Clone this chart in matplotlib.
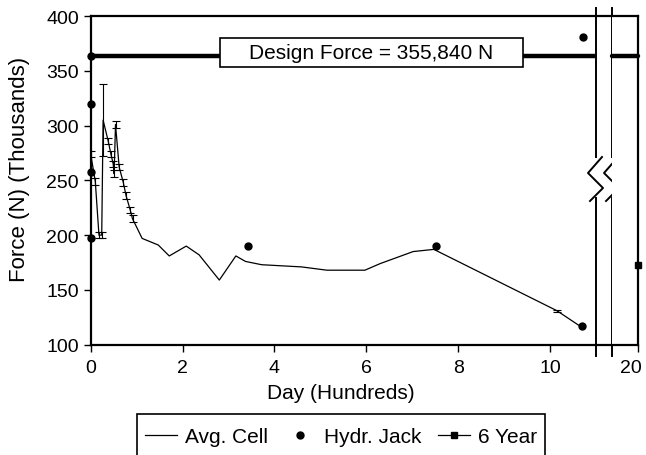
import numpy as np
import matplotlib
matplotlib.use('Agg')
import matplotlib.pyplot as plt
from matplotlib.lines import Line2D
from matplotlib.patches import Rectangle
from matplotlib.transforms import ScaledTranslation

plt.rcParams['font.family'] = ['Liberation Sans', 'DejaVu Sans']

# Avg. Cell (days in hundreds, force in thousands of N)
cell_x = [0.00, 0.10, 0.18, 0.24, 0.27, 0.38, 0.44, 0.49, 0.51, 0.54,
          0.62, 0.71, 0.77, 0.86, 0.91, 1.12, 1.47, 1.71, 2.08, 2.36,
          2.80, 3.16, 3.37, 3.72, 4.59, 5.14, 5.97, 6.30, 7.02, 7.47,
          10.15, 10.65]
cell_y = [274, 249, 200, 200, 305, 286, 274, 265, 256, 301,
          262, 248, 236, 223, 215, 197, 191, 181, 190, 182,
          159, 181, 176, 173, 171, 168, 168, 174, 185, 187,
          131, 117]
cell_err = [3, 3, 3, 3, 33, 3, 3, 3, 3, 3,
            3, 3, 3, 3, 3, 0, 0, 0, 0, 0,
            0, 0, 0, 0, 0, 0, 0, 0, 0, 0,
            1, 0]

# Hydr. Jack
jack_x = [0.0, 0.0, 0.0, 3.43, 7.51, 10.70, 10.71]
jack_y = [320, 258, 197, 190, 190, 117, 381]

# 6 Year
year6_x = [20]
year6_y = [172.5]

design_line = 363.8
design_label = 'Design Force = 355,840 N'

fig = plt.figure(figsize=(6.46, 4.56), dpi=100)
ax1 = fig.add_axes([0.1404, 0.2419, 0.7822, 0.7208])
ax2 = fig.add_axes([0.9474, 0.2419, 0.0407, 0.7208], sharey=ax1)

ax1.set_xlim(0, 11.0)
ax2.set_xlim(19.43, 20)
ax1.set_ylim(100, 400)

# design force line
ax1.plot([0, 11.0], [design_line, design_line], color='black', lw=3.2,
         solid_capstyle='butt', zorder=2)
ax1.plot([0], [design_line], 'o', color='black', ms=5, clip_on=False)
ax2.plot([19.43, 20], [design_line, design_line], color='black', lw=3.2,
         solid_capstyle='round', zorder=2, clip_on=False)

cx = np.array(cell_x)
cy = np.array(cell_y)
ce = np.array(cell_err)
m = ce > 0
ax1.plot(cx, cy, color='black', lw=0.9, zorder=3)
ax1.errorbar(cx[m], cy[m], yerr=ce[m], fmt='none', ecolor='black',
             elinewidth=0.8, capsize=3, capthick=0.8, zorder=3)
ax1.plot(jack_x, jack_y, 'o', color='black', ms=5, clip_on=False, zorder=4)
ax2.plot(year6_x, year6_y, 's', color='black', ms=5, clip_on=False, zorder=4)

# label box
ax1.add_patch(Rectangle((2.815, 353.2), 6.59, 26.4, facecolor='white',
                        edgecolor='black', lw=1.2, zorder=5))
ax1.text(6.10, 366.4, design_label, ha='center', va='center', fontsize=15,
         zorder=6)

ax1.set_xticks([0, 2, 4, 6, 8, 10])
ax1.set_yticks([100, 150, 200, 250, 300, 350, 400])
ax2.set_xticks([20])
ax1.tick_params(direction='out', length=5, width=1, labelsize=14)
ax1.tick_params(axis='x', pad=5)
ax2.tick_params(axis='x', direction='out', length=5, width=1, labelsize=14,
                pad=5)
ax2.tick_params(axis='y', left=False, labelleft=False)
for lab in ax2.get_xticklabels():
    lab.set_transform(lab.get_transform() +
                      ScaledTranslation(-7 / 100, 0, fig.dpi_scale_trans))

for sp in ax1.spines.values():
    sp.set_linewidth(1.6)
for sp in ax2.spines.values():
    sp.set_linewidth(1.6)
ax1.spines['right'].set_visible(False)
ax2.spines['left'].set_visible(False)

ax1.set_xlabel('Day (Hundreds)', fontsize=15)
ax1.set_ylabel('Force (N) (Thousands)', fontsize=16)
ax1.xaxis.set_label_coords(0.495, -0.118)
ax1.yaxis.set_label_coords(-0.12, 0.535)

# break: top/bottom borders across the gap, vertical lines with zigzag
gap = 1.0317
for yy in (0, 1):
    ax1.add_line(Line2D([1, gap], [yy, yy], transform=ax1.transAxes,
                        color='black', lw=1.6, clip_on=False))


def brk(xa):
    # xa in ax1 axes coords; zigzag in pixel offsets
    w = 505.3
    h = 328.7
    top = (345.7 - 158) / h
    bot = (345.7 - 199) / h
    ax1.add_line(Line2D([xa, xa], [1.024, top], transform=ax1.transAxes,
                        color='black', lw=1.4, clip_on=False))
    ax1.add_line(Line2D([xa, xa], [bot, -0.035], transform=ax1.transAxes,
                        color='black', lw=1.4, clip_on=False))
    zx = np.array([6, -8, 7, -6]) / w + xa
    zy = (345.7 - np.array([158, 174, 189, 202])) / h
    ax1.add_line(Line2D(zx, zy, transform=ax1.transAxes, color='black',
                        lw=1.4, clip_on=False))


brk(1.0)
brk(gap)

# legend (frame drawn separately, runs off the bottom edge)
fig.add_artist(Rectangle((137.3 / 646, -0.05), (545 - 137.3) / 646,
                         0.05 + 1 - 415 / 456, transform=fig.transFigure,
                         facecolor='white', edgecolor='black', lw=1.2))
handles = [Line2D([], [], color='black', lw=0.9),
           Line2D([], [], color='black', marker='o', ms=5, ls='none'),
           Line2D([], [], color='black', marker='s', ms=4, lw=0.9)]
leg = fig.legend(handles, ['Avg. Cell', 'Hydr. Jack', '6 Year'],
                 loc='center left',
                 bbox_to_anchor=(145 / 646, 1 - 437.7 / 456),
                 ncol=3, fontsize=15, frameon=False, borderpad=0,
                 handlelength=1.55, handletextpad=0.35, columnspacing=0.8,
                 borderaxespad=0)

fig.savefig('out.png', dpi=100)
